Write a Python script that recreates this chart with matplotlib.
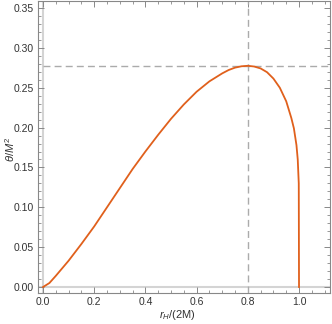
import matplotlib
matplotlib.use("Agg")
import matplotlib.pyplot as plt
from matplotlib.ticker import MultipleLocator

# values: x = r_H/(2M), y = theta/M^2
x_vals = [0.0, 0.025, 0.05, 0.10, 0.15, 0.20, 0.25, 0.30, 0.35, 0.40, 0.45,
          0.50, 0.55, 0.60, 0.65, 0.70, 0.725, 0.75, 0.775, 0.80, 0.825,
          0.85, 0.875, 0.90, 0.925, 0.95, 0.97, 0.98, 0.99, 0.995, 0.999, 1.0]
theta_vals = [0.0, 0.005, 0.014, 0.033, 0.054, 0.076, 0.100, 0.124, 0.148,
              0.170, 0.191, 0.211, 0.229, 0.245, 0.258, 0.268, 0.2722, 0.2752,
              0.2769, 0.2775, 0.2766, 0.2742, 0.2695, 0.2615, 0.2500, 0.2330,
              0.2120, 0.1990, 0.1780, 0.1600, 0.1300, 0.0]
x_peak = 0.8
theta_peak = 0.2775

plt.rcParams['font.family'] = ['Liberation Sans', 'DejaVu Sans']
plt.rcParams['mathtext.fontset'] = 'custom'
plt.rcParams['mathtext.rm'] = 'Liberation Sans'
plt.rcParams['mathtext.it'] = 'Liberation Sans:italic'

fig = plt.figure(figsize=(3.32, 3.24), dpi=100)
ax = fig.add_axes([38/332, 31/324, 292/332, 292/324])

xmin, xmax = -0.0195, 1.121
ymin, ymax = -0.0075, 0.3588
ax.set_xlim(xmin, xmax)
ax.set_ylim(ymin, ymax)

# Mathematica style axes through origin
ax.axvline(0, color='#d4d4d4', lw=1.5, zorder=1)
ax.axhline(0, color='#d4d4d4', lw=1.5, zorder=1)

# dashed guides at the maximum
ax.axvline(x_peak, color='#ababab', lw=1.0, ls=(0, (5, 3)), zorder=2)
ax.plot([0, xmax], [theta_peak, theta_peak], color='#ababab', lw=1.0,
        ls=(0, (5, 3)), zorder=2)

ax.plot(x_vals, theta_vals, color='#e0601c', lw=1.3, zorder=3)

ax.xaxis.set_major_locator(MultipleLocator(0.2))
ax.xaxis.set_minor_locator(MultipleLocator(0.05))
ax.yaxis.set_major_locator(MultipleLocator(0.05))
ax.yaxis.set_minor_locator(MultipleLocator(0.01))
ax.xaxis.set_major_formatter(lambda v, p: f"{v:.1f}")
ax.yaxis.set_major_formatter(lambda v, p: f"{v:.2f}")

ax.tick_params(which='both', direction='in', top=True, right=True,
               color='#888888', labelsize=7.5, labelcolor='#333333')
ax.tick_params(which='major', length=4, width=0.7, pad=3)
ax.tick_params(which='minor', length=2, width=0.6)
for s in ax.spines.values():
    s.set_color('#888888')
    s.set_linewidth(0.8)

ax.set_xlabel(r'$r_H$/(2M)', fontsize=8, color='#333333', va='center')
ax.set_ylabel(r'$\theta/M^2$', fontsize=8, color='#333333', va='center')
ax.xaxis.set_label_coords(0.479, -0.074)
ax.yaxis.set_label_coords(-0.094, 0.49)

fig.savefig("out.png", dpi=100)
